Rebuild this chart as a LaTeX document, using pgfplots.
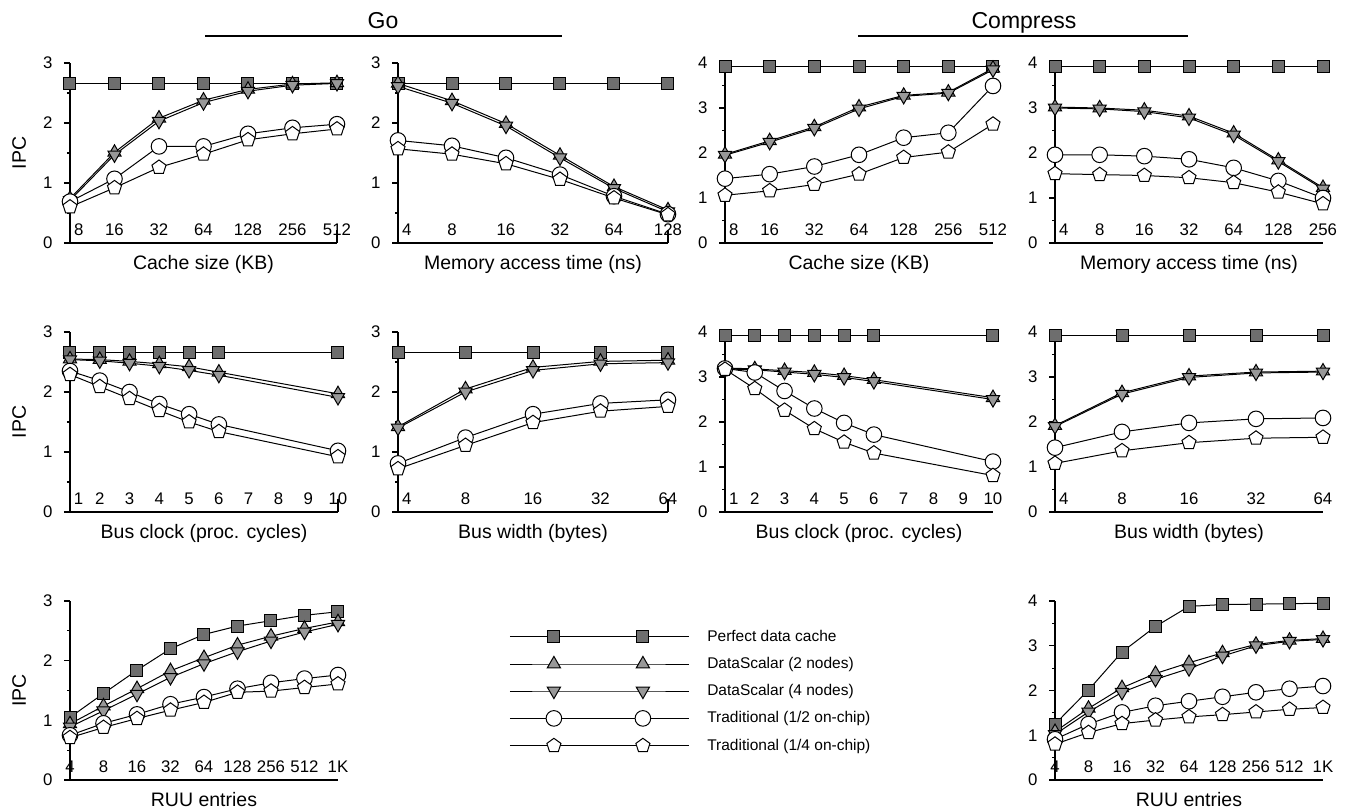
\documentclass[border=0pt]{standalone}
\usepackage{fontspec}
\setmainfont{Liberation Sans}
\usepackage{pgfplots}
\usepackage{pgfplotstable}
\pgfplotsset{compat=1.18}

\definecolor{sqgray}{HTML}{6E6E6E}
\definecolor{trgray}{HTML}{989898}

% first tick label starts just right of the y axis
\newcommand{\fl}[1]{\makebox[0pt][l]{\hspace{2pt}#1}}
\newcommand{\fiveplots}[1]{%
  \addplot[perf] table[y=perf] {#1};
  \addplot[ds2]  table[y=ds2]  {#1};
  \addplot[ds4]  table[y=ds4]  {#1};
  \addplot[trh]  table[y=trh]  {#1};
  \addplot[trq]  table[y=trq]  {#1};
}

\pgfplotsset{
  panel/.style={
    scale only axis, anchor=south west, clip=false,
    axis x line*=bottom, axis y line*=left,
    axis line style={line width=1.25pt, -},
    enlargelimits=false, ymin=0,
    x tick style={draw=none},
    ytick align=outside,
    major tick length=3pt, minor tick length=1.5pt,
    minor y tick num=1,
    y tick style={line width=0.6pt, black},
    tick label style={font=\fontsize{8.4}{9}\selectfont},
    /pgf/number format/assume math mode=true,
    xticklabel style={anchor=base, yshift=4pt},
    yticklabel style={xshift=-2.25pt},
    label style={font=\fontsize{9.75}{11}\selectfont},
    xlabel style={at={(axis description cs:0.5,0)}, anchor=base, yshift=-13pt},
    every axis plot/.append style={line width=0.5pt, black},
  },
  go/.style={ymax=3, ytick={0,1,2,3}},
  cp/.style={ymax=4, ytick={0,1,2,3,4}},
  ipc/.style={ylabel={IPC}, ylabel style={at={(axis description cs:-0.19,0.5)}, anchor=center}},
  endtick/.style={extra x ticks={#1}, extra x tick labels={},
    extra x tick style={x tick style={draw=black, line width=1pt}, major tick length=6.5pt, xtick align=inside}},
  perf/.style={mark=square*, mark size=3pt, mark options={fill=sqgray, line width=0.5pt}},
  ds2/.style={mark=triangle*, mark size=3.8pt, mark options={fill=trgray, line width=0.5pt}},
  ds4/.style={mark=triangle*, mark size=3.8pt, mark options={fill=trgray, line width=0.5pt, rotate=180}},
  trh/.style={mark=*, mark size=3.9pt, mark options={fill=white, line width=0.5pt}},
  trq/.style={mark=pentagon*, mark size=3.7pt, mark options={fill=white, line width=0.5pt}},
}

% Go
\pgfplotstableread{
x perf ds2 ds4 trh trq
0 2.66 0.74 0.71 0.69 0.60
1 2.66 1.51 1.47 1.07 0.92
2 2.66 2.08 2.03 1.61 1.26
3 2.66 2.38 2.34 1.61 1.48
4 2.66 2.56 2.53 1.82 1.72
5 2.66 2.65 2.63 1.92 1.82
6 2.66 2.67 2.66 1.98 1.90
}\goCache
\pgfplotstableread{
x perf ds2 ds4 trh trq
0 2.66 2.66 2.61 1.71 1.57
1 2.66 2.37 2.33 1.62 1.48
2 2.66 1.99 1.95 1.42 1.32
3 2.66 1.46 1.42 1.14 1.06
4 2.66 0.94 0.91 0.78 0.75
5 2.66 0.55 0.52 0.48 0.47
}\goMem
\pgfplotstableread{
x perf ds2 ds4 trh trq
1 2.66 2.55 2.54 2.35 2.29
2 2.66 2.54 2.52 2.19 2.09
3 2.66 2.51 2.48 2.00 1.89
4 2.66 2.47 2.43 1.80 1.69
5 2.66 2.42 2.36 1.63 1.50
6 2.66 2.33 2.28 1.46 1.34
10 2.66 1.97 1.91 1.02 0.92
}\goClk
\pgfplotstableread{
x perf ds2 ds4 trh trq
0 2.66 1.42 1.40 0.81 0.72
1 2.66 2.05 2.00 1.24 1.11
2 2.66 2.41 2.36 1.63 1.49
3 2.66 2.51 2.47 1.81 1.68
4 2.66 2.53 2.49 1.87 1.76
}\goWid
\pgfplotstableread{
x perf ds2 ds4 trh trq
0 1.05 0.94 0.89 0.75 0.71
1 1.45 1.24 1.16 0.95 0.88
2 1.84 1.53 1.44 1.10 1.03
3 2.20 1.83 1.72 1.27 1.17
4 2.44 2.05 1.95 1.39 1.30
5 2.58 2.26 2.15 1.53 1.47
6 2.67 2.41 2.33 1.63 1.49
7 2.76 2.54 2.48 1.70 1.55
8 2.82 2.65 2.61 1.76 1.61
}\goRuu

% Compress
\pgfplotstableread{
x perf ds2 ds4 trh trq
0 3.93 1.97 1.95 1.43 1.06
1 3.93 2.27 2.24 1.53 1.16
2 3.93 2.58 2.55 1.70 1.30
3 3.93 3.02 2.98 1.96 1.53
4 3.93 3.28 3.26 2.34 1.90
5 3.93 3.35 3.33 2.45 2.02
6 3.93 3.88 3.85 3.49 2.64
}\cpCache
\pgfplotstableread{
x perf ds2 ds4 trh trq
0 3.93 3.02 3.00 1.96 1.54
1 3.93 3.00 2.98 1.96 1.52
2 3.93 2.95 2.92 1.93 1.50
3 3.93 2.82 2.78 1.86 1.45
4 3.93 2.44 2.40 1.67 1.34
5 3.93 1.84 1.81 1.38 1.13
6 3.93 1.23 1.20 1.00 0.87
}\cpMem
\pgfplotstableread{
x perf ds2 ds4 trh trq
1 3.93 3.20 3.18 3.19 3.17
2 3.93 3.18 3.16 3.10 2.74
3 3.93 3.14 3.11 2.69 2.26
4 3.93 3.10 3.06 2.30 1.85
5 3.93 3.03 2.99 1.98 1.55
6 3.93 2.94 2.90 1.72 1.31
10 3.93 2.54 2.50 1.12 0.81
}\cpClk
\pgfplotstableread{
x perf ds2 ds4 trh trq
0 3.93 1.92 1.90 1.43 1.08
1 3.93 2.65 2.62 1.78 1.36
2 3.93 3.02 2.99 1.98 1.54
3 3.93 3.11 3.09 2.07 1.64
4 3.93 3.13 3.11 2.09 1.66
}\cpWid
\pgfplotstableread{
x perf ds2 ds4 trh trq
0 1.25 1.08 1.02 0.91 0.80
1 2.01 1.60 1.52 1.25 1.06
2 2.86 2.06 1.96 1.51 1.26
3 3.43 2.38 2.25 1.66 1.34
4 3.88 2.62 2.49 1.76 1.41
5 3.92 2.84 2.77 1.86 1.46
6 3.93 3.03 3.00 1.96 1.52
7 3.94 3.12 3.10 2.04 1.58
8 3.95 3.16 3.14 2.10 1.62
}\cpRuu

\begin{document}
\begin{tikzpicture}
\useasboundingbox (0,0) rectangle (675.5pt,405.5pt);

% group headings
\node[font=\fontsize{11.5}{13}\selectfont, anchor=base] at (191.5pt,391.5pt) {Go};
\draw[line width=1pt] (102.5pt,387.5pt) -- (281pt,387.5pt);
\node[font=\fontsize{11.5}{13}\selectfont, anchor=base] at (512pt,391.5pt) {Compress};
\draw[line width=1pt] (429pt,387.5pt) -- (594pt,387.5pt);

% ---- row 1
\begin{axis}[panel, go, ipc, endtick=6, at={(35pt,284pt)}, width=133.5pt, height=90pt,
  xmin=0, xmax=6, xtick={0,...,6}, xticklabels={\fl{8},16,32,64,128,256,512},
  xlabel={Cache size (KB)}]
\fiveplots{\goCache}
\end{axis}
\begin{axis}[panel, go, endtick=5, at={(199pt,284pt)}, width=135pt, height=90pt,
  xmin=0, xmax=5, xtick={0,...,5}, xticklabels={\fl{4},8,16,32,64,128},
  xlabel={Memory access time (ns)}]
\fiveplots{\goMem}
\end{axis}
\begin{axis}[panel, cp, at={(362.5pt,284pt)}, width=134pt, height=90pt,
  xmin=0, xmax=6, xtick={0,...,6}, xticklabels={\fl{8},16,32,64,128,256,512},
  xlabel={Cache size (KB)}]
\fiveplots{\cpCache}
\end{axis}
\begin{axis}[panel, cp, at={(527.5pt,284pt)}, width=134pt, height=90pt,
  xmin=0, xmax=6, xtick={0,...,6}, xticklabels={\fl{4},8,16,32,64,128,256},
  xlabel={Memory access time (ns)}]
\fiveplots{\cpMem}
\end{axis}

% ---- row 2
\begin{axis}[panel, go, ipc, endtick=10, at={(35pt,149.5pt)}, width=134pt, height=90pt,
  xmin=1, xmax=10, xtick={1,...,10}, xticklabels={\fl{1},2,3,4,5,6,7,8,9,10},
  xlabel={Bus clock (proc. cycles)}]
\fiveplots{\goClk}
\end{axis}
\begin{axis}[panel, go, endtick=4, at={(199pt,149.5pt)}, width=135pt, height=90pt,
  xmin=0, xmax=4, xtick={0,...,4}, xticklabels={\fl{4},8,16,32,64},
  xlabel={Bus width (bytes)}]
\fiveplots{\goWid}
\end{axis}
\begin{axis}[panel, cp, at={(362.5pt,149.5pt)}, width=134pt, height=90pt,
  xmin=1, xmax=10, xtick={1,...,10}, xticklabels={\fl{1},2,3,4,5,6,7,8,9,10},
  xlabel={Bus clock (proc. cycles)}]
\fiveplots{\cpClk}
\end{axis}
\begin{axis}[panel, cp, at={(527.5pt,149.5pt)}, width=134pt, height=90pt,
  xmin=0, xmax=4, xtick={0,...,4}, xticklabels={\fl{4},8,16,32,64},
  xlabel={Bus width (bytes)}]
\fiveplots{\cpWid}
\end{axis}

% ---- row 3
\begin{axis}[panel, go, ipc, at={(35pt,15.5pt)}, width=134pt, height=89.5pt,
  xmin=0, xmax=8, xtick={0,...,8}, xticklabels={4,8,16,32,64,128,256,512,1K},
  xlabel={RUU entries}]
\fiveplots{\goRuu}
\end{axis}
\begin{axis}[panel, cp, at={(527.5pt,15.5pt)}, width=134pt, height=89.5pt,
  xmin=0, xmax=8, xtick={0,...,8}, xticklabels={4,8,16,32,64,128,256,512,1K},
  xlabel={RUU entries}]
\fiveplots{\cpRuu}
\end{axis}

% ---- shared legend
\begin{axis}[hide axis, scale only axis, anchor=south west, at={(254.5pt,50pt)},
  width=10pt, height=10pt, xmin=0, xmax=1, ymin=0, ymax=1,
  legend style={draw=none, fill=none, at={(axis description cs:0,4.1)}, anchor=north west,
    font=\fontsize{7.75}{9}\selectfont, row sep=6pt, inner sep=0pt,
    nodes={inner sep=0pt, text height=6pt, text depth=1.5pt}},
  legend cell align=left,
  legend image code/.code={%
    \draw[line width=0.5pt, black, #1, mark indices={2,3}]
      plot coordinates {(0pt,0pt) (22pt,0pt) (66.5pt,0pt) (89.5pt,0pt)};
    \path (98.5pt,0pt);}]
\addlegendimage{perf}\addlegendentry{Perfect data cache}
\addlegendimage{ds2}\addlegendentry{DataScalar (2 nodes)}
\addlegendimage{ds4}\addlegendentry{DataScalar (4 nodes)}
\addlegendimage{trh}\addlegendentry{Traditional (1/2 on-chip)}
\addlegendimage{trq}\addlegendentry{Traditional (1/4 on-chip)}
\end{axis}
\end{tikzpicture}
\end{document}
